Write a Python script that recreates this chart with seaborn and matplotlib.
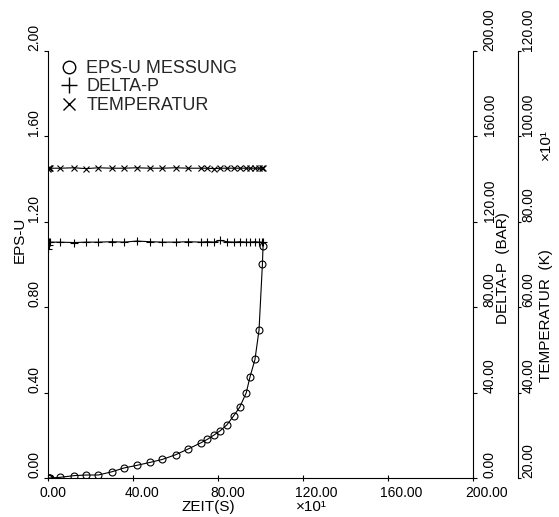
import numpy as np
import pandas as pd
import matplotlib
matplotlib.use("Agg")
import matplotlib.pyplot as plt
import matplotlib.transforms as mtransforms
from matplotlib.lines import Line2D
import seaborn as sns

# ---- data ----
zeit = [0.0, 0.3, 0.6, 1.0, 5.6, 12.2, 17.9, 23.7, 30.0, 35.8, 41.7, 48.0, 53.8, 60.1,
        66.0, 72.0, 75.0, 78.1, 81.0, 84.2, 87.3, 90.2, 93.3, 95.0, 97.4, 99.3, 100.9, 101.2]
eps_u = [0.0, 0.0, 0.0, 0.0, 0.003, 0.011, 0.014, 0.014, 0.029, 0.047, 0.059, 0.073, 0.087,
         0.109, 0.136, 0.165, 0.181, 0.201, 0.221, 0.249, 0.290, 0.331, 0.399, 0.471, 0.555,
         0.692, 1.001, 1.085]
delta_p = [107.0, 109.0, 110.4, 110.4, 110.4, 110.2, 110.4, 110.4, 110.6, 110.4, 110.9, 110.6,
           110.4, 110.4, 110.6, 110.4, 110.6, 110.4, 111.2, 110.6, 110.4, 110.6, 110.4, 110.4,
           110.6, 110.4, 110.4, 110.4]
temperatur = [92.3, 92.5, 92.6, 92.5, 92.5, 92.6, 92.4, 92.6, 92.5, 92.5, 92.6, 92.5, 92.5,
              92.6, 92.5, 92.5, 92.5, 92.4, 92.5, 92.5, 92.5, 92.5, 92.5, 92.5, 92.5, 92.5,
              92.5, 92.5]

x_ticks = [0, 40, 80, 120, 160, 200]
eps_ticks = [0.0, 0.4, 0.8, 1.2, 1.6, 2.0]
dp_ticks = [0, 40, 80, 120, 160, 200]
t_ticks = [20, 40, 60, 80, 100, 120]

legend_labels = ["EPS-U MESSUNG", "DELTA-P", "TEMPERATUR"]

df = pd.DataFrame({"zeit": zeit, "eps": eps_u, "dp": delta_p, "temp": temperatur})

# ---- style ----
sns.set_theme(style="white")
plt.rcParams["font.family"] = ["Liberation Sans", "DejaVu Sans"]
plt.rcParams["axes.linewidth"] = 0.8

fig = plt.figure(figsize=(5.59, 5.17), dpi=100)
ax = fig.add_axes([48 / 559, 1 - 478 / 517, 425 / 559, 427.3 / 517])
ax.set_facecolor("white")
fig.patch.set_facecolor("white")

ax2 = ax.twinx()
ax3 = ax.twinx()

lkw = dict(color="black", linewidth=0.8, estimator=None, sort=False, legend=False)

sns.lineplot(data=df, x="zeit", y="eps", ax=ax, marker="o", markersize=5,
             markerfacecolor="none", markeredgecolor="black", markeredgewidth=0.8, **lkw)
sns.lineplot(data=df, x="zeit", y="dp", ax=ax2, marker="+", markersize=6,
             markeredgecolor="black", markeredgewidth=0.8, **lkw)
sns.lineplot(data=df, x="zeit", y="temp", ax=ax3, marker="x", markersize=4.5,
             markeredgecolor="black", markeredgewidth=0.8, **lkw)

ax.set_xlim(0, 200)
ax.set_ylim(0, 2.0)
ax2.set_ylim(0, 200)
ax3.set_ylim(20, 120)

# spines
for s in ["top", "right"]:
    ax.spines[s].set_visible(False)
for s in ["top", "left", "bottom"]:
    ax2.spines[s].set_visible(False)
    ax3.spines[s].set_visible(False)
for a in (ax, ax2, ax3):
    for s in a.spines.values():
        s.set_color("black")
        s.set_linewidth(0.8)
ax3.spines["right"].set_position(("axes", (518 - 48) / 425))

# ticks
ax.set_xticks(x_ticks)
ax.set_xticklabels([f"{v:.2f}" for v in x_ticks])
ax.set_yticks(eps_ticks)
ax.set_yticklabels([f"{v:.2f}" for v in eps_ticks])
ax2.set_yticks(dp_ticks)
ax2.set_yticklabels([f"{v:.2f}" for v in dp_ticks])
ax3.set_yticks(t_ticks)
ax3.set_yticklabels([f"{v:.2f}" for v in t_ticks])

ax.tick_params(axis="x", direction="inout", length=5, width=0.8, pad=3.0,
               labelsize=10, colors="black", bottom=True)
ax.tick_params(axis="y", direction="out", length=3, width=0.8, pad=2,
               labelsize=10, colors="black", left=True, labelrotation=90)
ax2.tick_params(axis="y", direction="out", length=3, width=0.8, pad=4,
                labelsize=10, colors="black", right=True, labelrotation=90)
ax3.tick_params(axis="y", direction="out", length=2.5, width=0.8, pad=0,
                labelsize=10, colors="black", right=True, labelrotation=90)

for lab in ax.get_yticklabels() + ax2.get_yticklabels() + ax3.get_yticklabels():
    lab.set_va("bottom")

off = mtransforms.ScaledTranslation(-8 / 100, 0, fig.dpi_scale_trans)
for lab in ax.get_xticklabels():
    lab.set_ha("left")
    lab.set_transform(lab.get_transform() + off)

# axis labels
ax.set_xlabel("ZEIT(S)", fontsize=11, color="black")
ax.xaxis.set_label_coords((208 - 48) / 425, (478 - 500) / 427.3)
ax.text((311 - 48) / 425, (478 - 500) / 427.3, "×10¹", transform=ax.transAxes,
        ha="center", va="top", fontsize=11, color="black")

ax.set_ylabel("EPS-U", fontsize=11, color="black")
ax.yaxis.set_label_coords((27 - 48) / 425, (478 - 240) / 427.3)

ax2.set_ylabel("DELTA-P  (BAR)", fontsize=11, color="black")
ax2.yaxis.set_label_coords((496 - 48) / 425, (478 - 268) / 427.3)

ax3.set_ylabel("TEMPERATUR  (K)", fontsize=11, color="black")
ax3.yaxis.set_label_coords((539 - 48) / 425, (478 - 316) / 427.3)
ax3.text((546 - 48) / 425, (478 - 145) / 427.3, "×10¹", transform=ax.transAxes,
         rotation=90, ha="center", va="center", fontsize=11, color="black")

# legend
handles = [
    Line2D([], [], linestyle="none", marker="o", markersize=9, markerfacecolor="none",
           markeredgecolor="black", markeredgewidth=1.0),
    Line2D([], [], linestyle="none", marker="+", markersize=11, markeredgecolor="black",
           markeredgewidth=1.0),
    Line2D([], [], linestyle="none", marker="x", markersize=9, markeredgecolor="black",
           markeredgewidth=1.0),
]
leg = ax.legend(handles, legend_labels, loc="upper left",
                bbox_to_anchor=((60 - 48) / 425, (478 - 60) / 427.3),
                frameon=False, fontsize=13, handlelength=1.0, handletextpad=0.45,
                labelspacing=0.08, borderaxespad=0, borderpad=0)

fig.savefig("out.png", dpi=100)
